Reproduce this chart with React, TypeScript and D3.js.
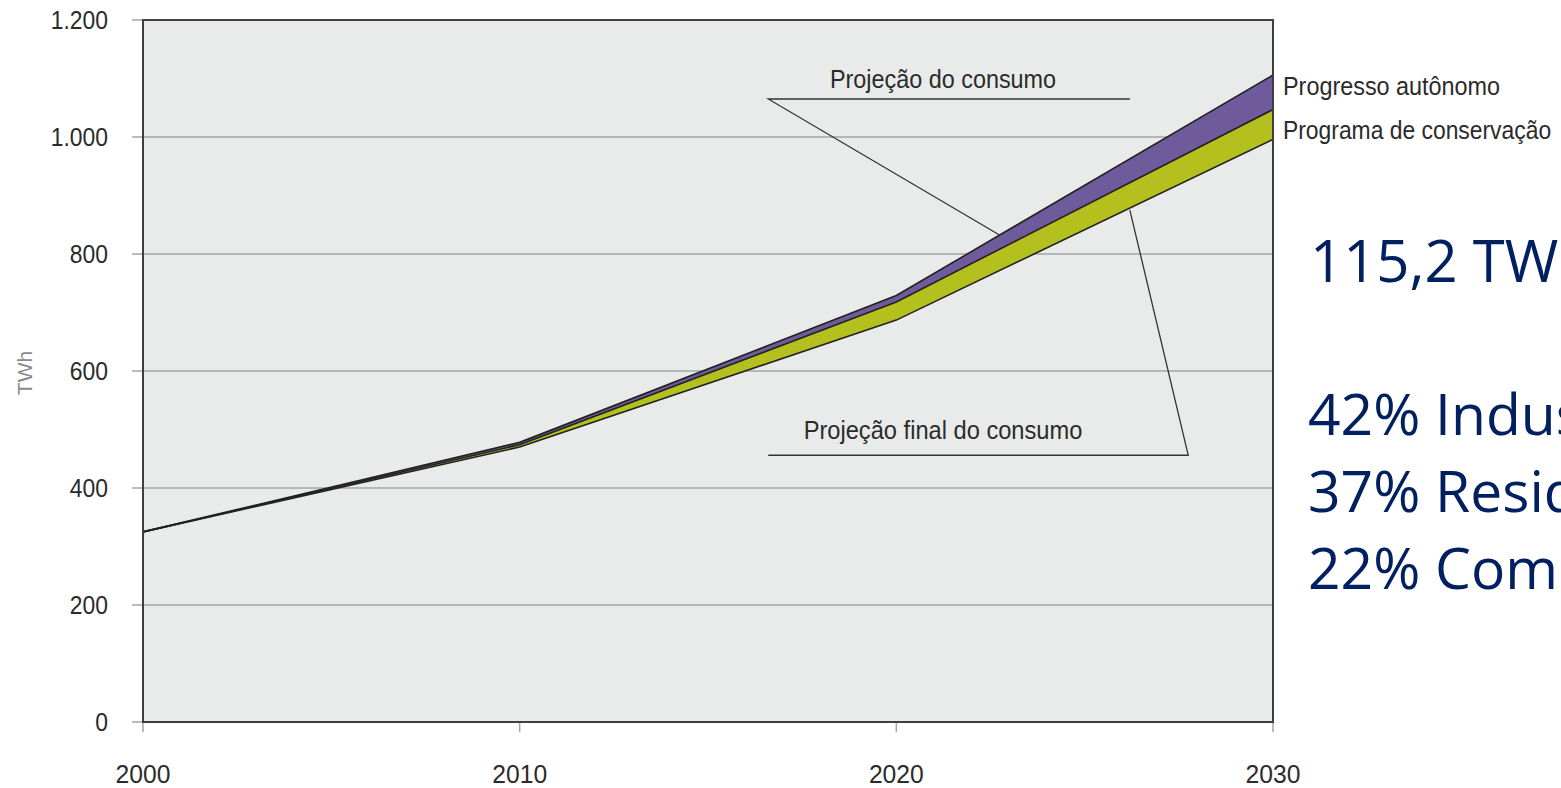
import React from "react";
import * as d3 from "d3";

// consumo de energia elétrica (TWh)
const years = [2000, 2010, 2020, 2030];
const progressoAutonomo = [325, 478, 729, 1106];
const programaConservacao = [325, 474, 718, 1047];
const projecaoFinal = [325, 470, 687, 996];

const yTicks = [0, 200, 400, 600, 800, 1000, 1200];
const seriesLabels = ["Progresso autônomo", "Programa de conservação"];
const sideNotes = ["42% Industrial", "37% Residencial", "22% Comercial"];

const W = 1561;
const H = 788;
const margin = { left: 143, right: 288, top: 20, bottom: 66 };

const fmt = (v: number) => d3.format(",")(v).replace(/,/g, ".");
const narrow = "'Liberation Sans', Arimo, sans-serif";

// condensed-looking text (no narrow font installed, so squeeze horizontally)
const NText = ({ x, y, anchor = "start", size = 26, sx = 0.9, fill = "#2b2b2b", children }: any) => (
  <text
    transform={`translate(${x} ${y}) scale(${sx} 1)`}
    textAnchor={anchor}
    fontFamily={narrow}
    fontSize={size}
    fill={fill}
  >
    {children}
  </text>
);

const App = () => {
  const x = d3
    .scaleLinear()
    .domain([2000, 2030])
    .range([margin.left, W - margin.right]);
  const y = d3
    .scaleLinear()
    .domain([0, 1200])
    .range([H - margin.bottom, margin.top]);

  const rows = years.map((yr, i) => ({
    yr,
    top: progressoAutonomo[i],
    mid: programaConservacao[i],
    low: projecaoFinal[i],
  }));

  const purple = d3
    .area<any>()
    .x(d => x(d.yr))
    .y0(d => y(d.mid))
    .y1(d => y(d.top));
  const green = d3
    .area<any>()
    .x(d => x(d.yr))
    .y0(d => y(d.low))
    .y1(d => y(d.mid));
  const line = (key: string) =>
    d3
      .line<any>()
      .x(d => x(d.yr))
      .y(d => y(d[key]))(rows);

  const [x0, x1] = x.range();
  const [yb, yt] = y.range();

  return (
    <svg width={W} height={H} style={{ display: "block", position: "absolute", left: 0, top: 0 }}>
      <rect x={x0} y={yt} width={x1 - x0} height={yb - yt} fill="#e9ebea" />
      {yTicks.map(t => (
        <g key={t}>
          <line x1={x0 - 11} x2={x1} y1={y(t)} y2={y(t)} stroke="#a3a5a4" strokeWidth={1.5} />
          <NText x={108} y={y(t) + 9} anchor="end" sx={0.88}>
            {fmt(t)}
          </NText>
        </g>
      ))}
      {years.map(yr => (
        <g key={yr}>
          <line x1={x(yr)} x2={x(yr)} y1={yb} y2={yb + 10} stroke="#a3a5a4" strokeWidth={1.5} />
          <NText x={x(yr)} y={783} anchor="middle" sx={0.95}>
            {yr}
          </NText>
        </g>
      ))}
      <text
        transform={`translate(32 ${373}) rotate(-90)`}
        textAnchor="middle"
        fontFamily={narrow}
        fontSize={21}
        fill="#8a8a8a"
      >
        TWh
      </text>

      <path d={purple(rows) || ""} fill="#6f5a9c" />
      <path d={green(rows) || ""} fill="#b4c01e" />
      {["top", "mid", "low"].map(k => (
        <path key={k} d={line(k) || ""} fill="none" stroke="#222" strokeWidth={1.6} />
      ))}

      {/* callouts */}
      <g stroke="#333" strokeWidth={1.3} fill="none">
        <polyline
          points={[
            [x(2026.2), y(1065)],
            [x(2016.6), y(1065)],
            [x(2022.75), y(832)],
          ].join(" ")}
        />
        <polyline
          points={[
            [x(2016.6), y(456)],
            [x(2027.75), y(456)],
            [x(2026.2), y(875)],
          ].join(" ")}
        />
      </g>
      <NText x={943} y={88} anchor="middle" sx={0.9}>
        Projeção do consumo
      </NText>
      <NText x={943} y={439} anchor="middle" sx={0.91}>
        Projeção final do consumo
      </NText>

      <rect x={x0} y={yt} width={x1 - x0} height={yb - yt} fill="none" stroke="#3f3f3f" strokeWidth={2} />

      <NText x={x1 + 10} y={y(progressoAutonomo[3]) + 20} sx={0.9}>
        {seriesLabels[0]}
      </NText>
      <NText x={x1 + 10} y={y(programaConservacao[3]) + 29} sx={0.88}>
        {seriesLabels[1]}
      </NText>

      <text x={1310} y={282} fontFamily="'Open Sans', sans-serif" fontSize={58} fill="#002060">
        115,2 TWh
      </text>
      {sideNotes.map((s, i) => (
        <text
          key={s}
          x={1308}
          y={435 + i * 77}
          fontFamily="'Open Sans', sans-serif"
          fontSize={57}
          fill="#002060"
        >
          {s}
        </text>
      ))}
    </svg>
  );
};

export default App;
